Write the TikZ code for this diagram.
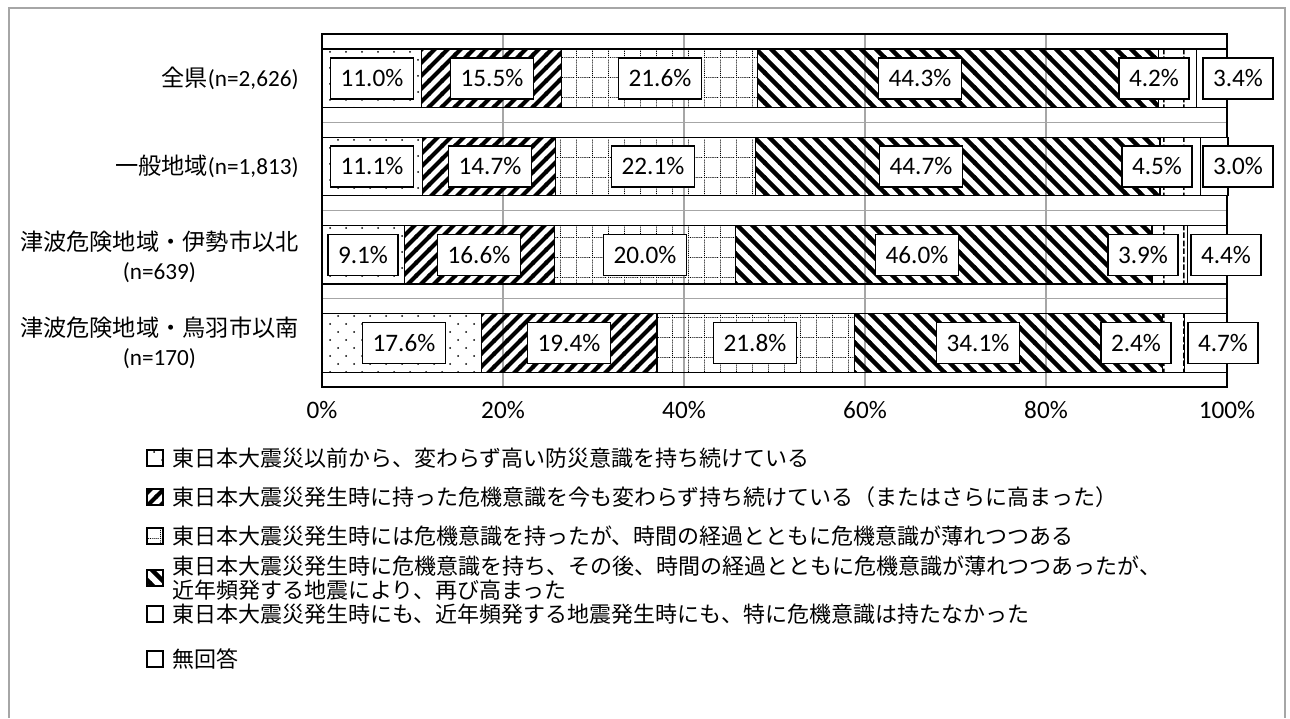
\documentclass[tikz,border=0pt]{standalone}
\usepackage{fontspec}
\setmainfont{Carlito}
\newfontfamily\jp{Noto Sans CJK JP}
\usetikzlibrary{patterns}

\definecolor{gridgray}{HTML}{A6A6A6}
\definecolor{framegray}{HTML}{A6A6A6}

% fill patterns of the six answers
\pgfdeclarepatternformonly{sparsedots}{\pgfqpoint{-1pt}{-1pt}}{\pgfqpoint{9pt}{9pt}}{\pgfqpoint{8pt}{8pt}}{%
  \pgfpathcircle{\pgfqpoint{1pt}{1pt}}{0.5pt}%
  \pgfpathcircle{\pgfqpoint{5pt}{5pt}}{0.5pt}%
  \pgfusepath{fill}}
\pgfdeclarepatternformonly{wideup}{\pgfqpoint{-1pt}{-1pt}}{\pgfqpoint{7.5pt}{7.5pt}}{\pgfqpoint{6.5pt}{6.5pt}}{%
  \pgfsetlinewidth{2pt}%
  \pgfpathmoveto{\pgfqpoint{-1pt}{-1pt}}\pgfpathlineto{\pgfqpoint{7.5pt}{7.5pt}}%
  \pgfusepath{stroke}}
\pgfdeclarepatternformonly{dotgrid}{\pgfqpoint{0pt}{0pt}}{\pgfqpoint{8pt}{10pt}}{\pgfqpoint{8pt}{10pt}}{%
  \pgfsetlinewidth{0.5pt}\pgfsetdash{{0.5pt}{0.5pt}}{0pt}%
  \pgfpathmoveto{\pgfqpoint{0pt}{0.25pt}}\pgfpathlineto{\pgfqpoint{8pt}{0.25pt}}%
  \pgfpathmoveto{\pgfqpoint{0.25pt}{0pt}}\pgfpathlineto{\pgfqpoint{0.25pt}{10pt}}%
  \pgfusepath{stroke}}
\pgfdeclarepatternformonly{widedown}{\pgfqpoint{-1pt}{-1pt}}{\pgfqpoint{8.5pt}{8.5pt}}{\pgfqpoint{7.5pt}{7.5pt}}{%
  \pgfsetlinewidth{2.2pt}%
  \pgfpathmoveto{\pgfqpoint{-1pt}{8.5pt}}\pgfpathlineto{\pgfqpoint{8.5pt}{-1pt}}%
  \pgfusepath{stroke}}
\pgfdeclarepatternformonly{dashvert}{\pgfqpoint{0pt}{0pt}}{\pgfqpoint{10pt}{8pt}}{\pgfqpoint{10pt}{8pt}}{%
  \pgfsetlinewidth{0.7pt}\pgfsetdash{{3pt}{1pt}}{0pt}%
  \pgfpathmoveto{\pgfqpoint{2pt}{0pt}}\pgfpathlineto{\pgfqpoint{2pt}{8pt}}%
  \pgfusepath{stroke}}

\begin{document}
\begin{tikzpicture}[
    x=0.5pt, y=-0.5pt,
    seg/.style={draw=black, line width=0.65pt},
    ans1/.style={pattern=sparsedots},
    ans2/.style={pattern=wideup},
    ans3/.style={pattern=dotgrid},
    ans4/.style={pattern=widedown},
    ans5/.style={pattern=dashvert},
    ans6/.style={fill=white},
    val/.style={draw=black, fill=white, line width=0.75pt, inner xsep=5pt, inner ysep=0pt, minimum height=20.5pt, font=\fontsize{12.6}{14}\selectfont},
    cat/.style={anchor=east, align=center, inner sep=0pt, font=\fontsize{11.6}{14.5}\selectfont},
    axlbl/.style={font=\fontsize{12.6}{14}\selectfont},
    keybox/.style={draw=black, line width=0.75pt, minimum size=8pt, inner sep=0pt},
    lgd/.style={anchor=west, align=left, inner sep=0pt, font=\jp\fontsize{11}{12}\selectfont}
]
    \useasboundingbox (0,0) rectangle (1290,718);

    % Outer frame
    \draw[framegray, line width=0.75pt] (9,718) -- (9,8) -- (1285,8) -- (1285,718);

    % Gridlines
    \foreach \k in {1,...,4}
        \draw[gridgray, line width=0.65pt] (322+181*\k,34) -- (322+181*\k,387);
    \foreach \k in {1,2,3}
        \draw[gridgray, line width=0.65pt] (322,34+88.25*\k) -- (1227,34+88.25*\k);

    % Plot area
    \draw[black, line width=0.65pt] (322,34) rectangle (1227,387);

    % Bars with value boxes (value/label x)
    \foreach \r/\vals in {
        0/{11.0/372,15.5/492,21.6/660,44.3/920,4.2/1154,3.4/1238},
        1/{11.1/372,14.7/490,22.1/653,44.7/921,4.5/1157,3.0/1238},
        2/{9.1/363,16.6/479,20.0/645,46.0/917,3.9/1143,4.4/1226},
        3/{17.6/404,19.4/569,21.8/755,34.1/978,2.4/1136,4.7/1223}} {
        \gdef\acc{0}
        \foreach \v/\lx [count=\i] in \vals {
            \pgfmathsetmacro\a{322+9.05*\acc}
            \pgfmathsetmacro\b{322+9.05*(\acc+\v)}
            \draw[seg, ans\i] (\a,49+88.25*\r) rectangle (\b,107.5+88.25*\r);
            \node[val] (v\r-\i) at (\lx,78.25+88.25*\r) {\v\%};
            \pgfmathsetmacro\nacc{\acc+\v}
            \xdef\acc{\nacc}
        }
    }

    % Category labels
    \node[cat] (cat0) at (299,78) {{\jp 全県}(n=2,626)};
    \node[cat] (cat1) at (299,166) {{\jp 一般地域}(n=1,813)};
    \node[cat] (cat2) at (299,257) {{\jp 津波危険地域・伊勢市以北}\\(n=639)};
    \node[cat] (cat3) at (299,343) {{\jp 津波危険地域・鳥羽市以南}\\(n=170)};

    % Axis labels
    \foreach \k/\p in {0/0,1/20,2/40,3/60,4/80,5/100}
        \node[axlbl] (ax\k) at (322+181*\k,410) {\p\%};

    % Legend
    \foreach \i/\y in {1/458,2/497,3/536,4/578,5/614,6/659}
        \node[keybox, ans\i] (key\i) at (155,\y) {};
    \node[lgd] (lgd1) at (172,458) {東日本大震災以前から、変わらず高い防災意識を持ち続けている};
    \node[lgd] (lgd2) at (172,497) {東日本大震災発生時に持った危機意識を今も変わらず持ち続けている（またはさらに高まった）};
    \node[lgd] (lgd3) at (172,536) {東日本大震災発生時には危機意識を持ったが、時間の経過とともに危機意識が薄れつつある};
    \node[lgd] (lgd4) at (172,578) {東日本大震災発生時に危機意識を持ち、その後、時間の経過とともに危機意識が薄れつつあったが、\\近年頻発する地震により、再び高まった};
    \node[lgd] (lgd5) at (172,614) {東日本大震災発生時にも、近年頻発する地震発生時にも、特に危機意識は持たなかった};
    \node[lgd] (lgd6) at (172,659) {無回答};

\end{tikzpicture}
\end{document}
